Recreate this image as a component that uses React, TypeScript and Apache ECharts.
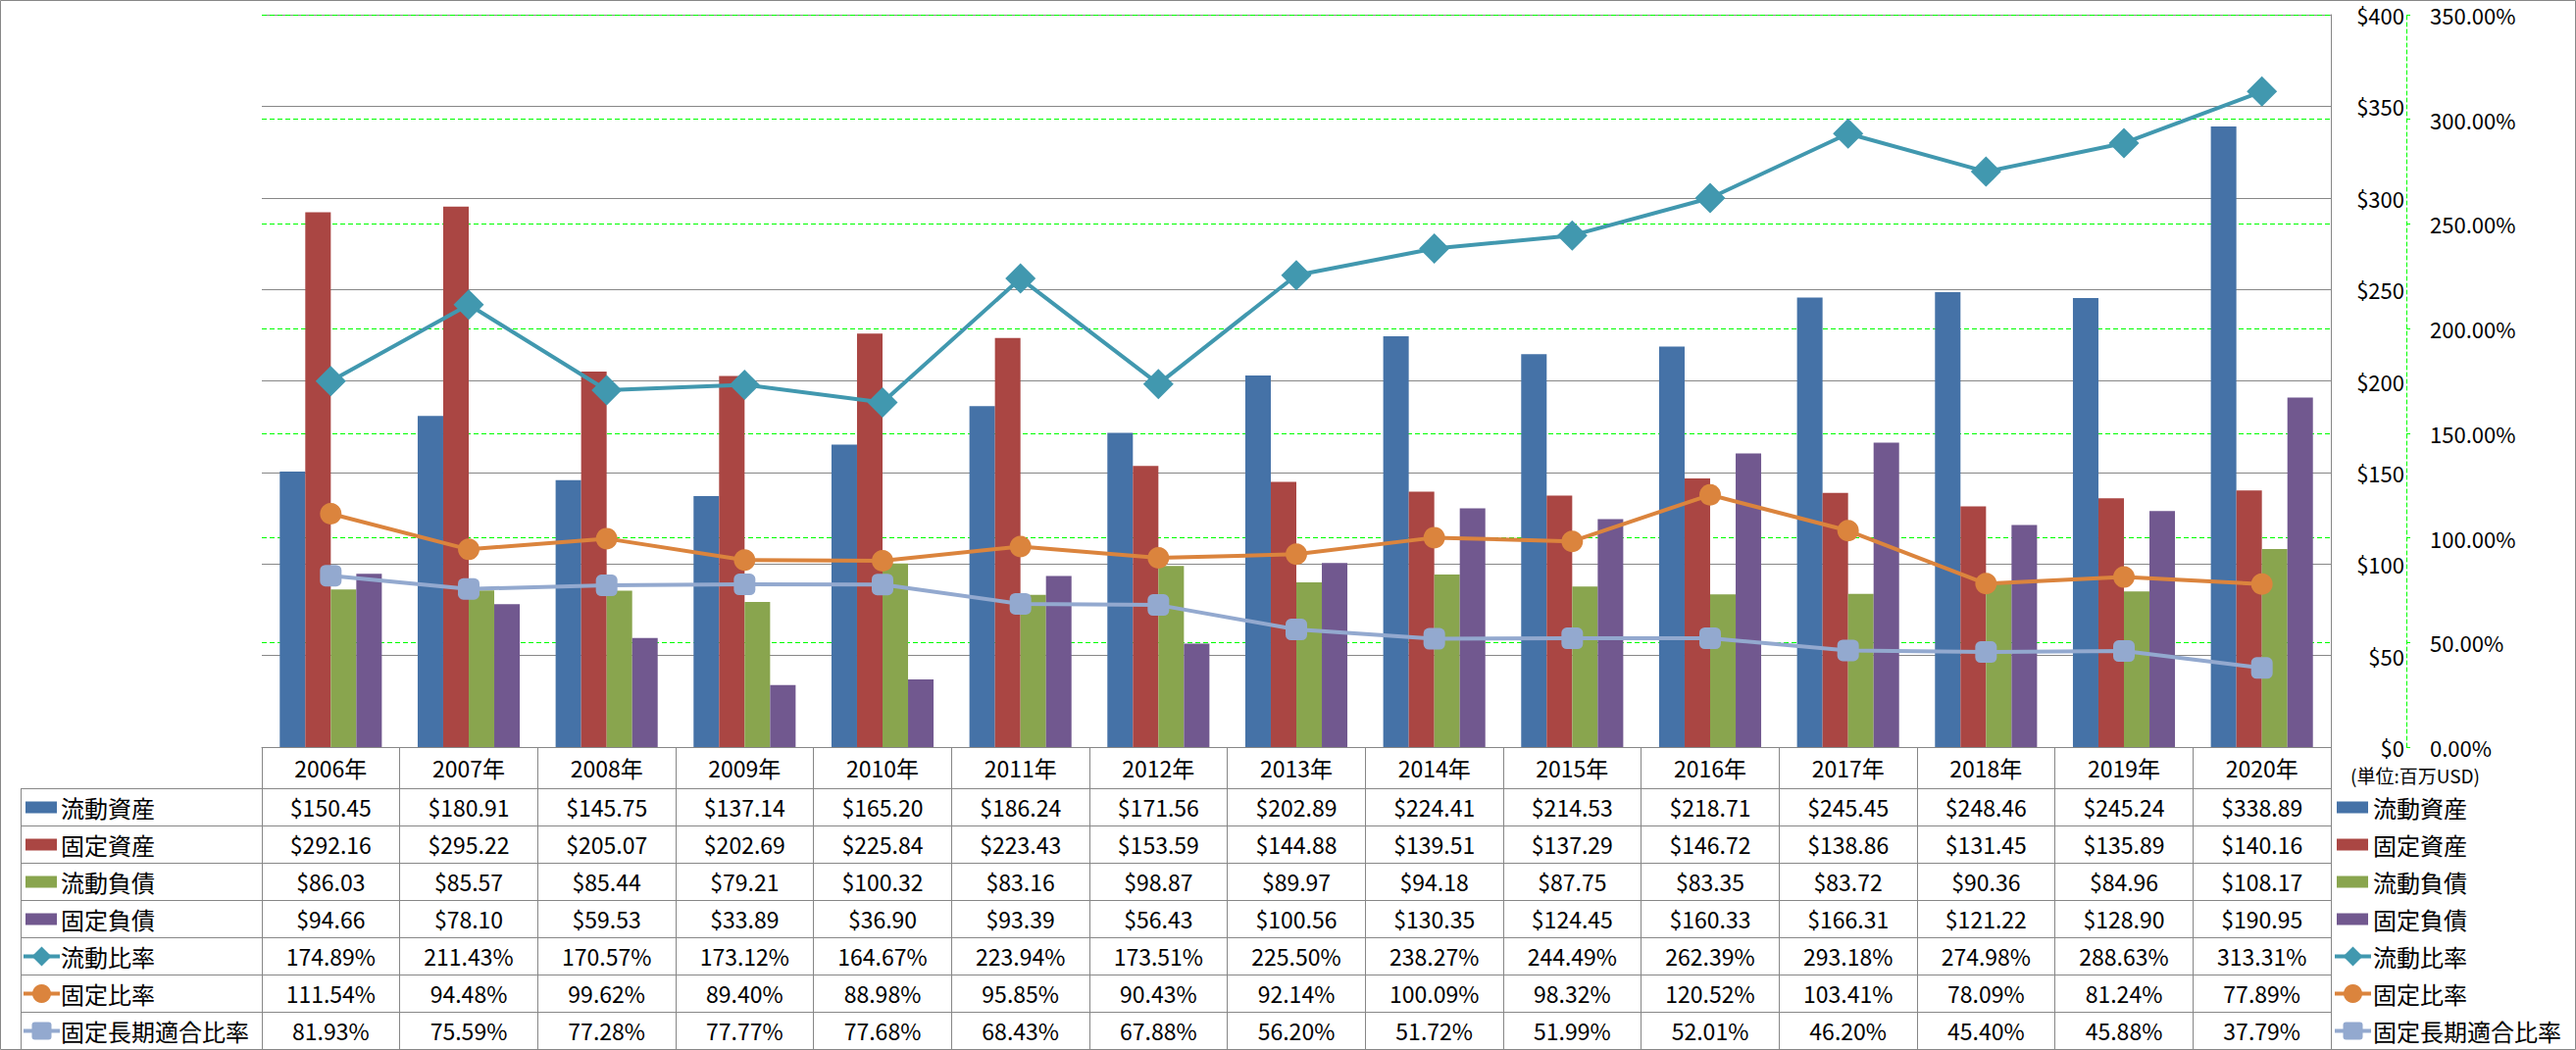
import React, { useEffect, useRef } from "react";
import * as echarts from "echarts";

const categories = ["2006年", "2007年", "2008年", "2009年", "2010年", "2011年", "2012年", "2013年", "2014年", "2015年", "2016年", "2017年", "2018年", "2019年", "2020年"];
const currentAssets = [150.45, 180.91, 145.75, 137.14, 165.2, 186.24, 171.56, 202.89, 224.41, 214.53, 218.71, 245.45, 248.46, 245.24, 338.89];
const fixedAssets = [292.16, 295.22, 205.07, 202.69, 225.84, 223.43, 153.59, 144.88, 139.51, 137.29, 146.72, 138.86, 131.45, 135.89, 140.16];
const currentLiabilities = [86.03, 85.57, 85.44, 79.21, 100.32, 83.16, 98.87, 89.97, 94.18, 87.75, 83.35, 83.72, 90.36, 84.96, 108.17];
const fixedLiabilities = [94.66, 78.1, 59.53, 33.89, 36.9, 93.39, 56.43, 100.56, 130.35, 124.45, 160.33, 166.31, 121.22, 128.9, 190.95];
const currentRatio = [174.89, 211.43, 170.57, 173.12, 164.67, 223.94, 173.51, 225.5, 238.27, 244.49, 262.39, 293.18, 274.98, 288.63, 313.31];
const fixedRatio = [111.54, 94.48, 99.62, 89.4, 88.98, 95.85, 90.43, 92.14, 100.09, 98.32, 120.52, 103.41, 78.09, 81.24, 77.89];
const fixedLongTermRatio = [81.93, 75.59, 77.28, 77.77, 77.68, 68.43, 67.88, 56.2, 51.72, 51.99, 52.01, 46.2, 45.4, 45.88, 37.79];

const seriesNames = ["流動資産", "固定資産", "流動負債", "固定負債", "流動比率", "固定比率", "固定長期適合比率"];
const seriesColors = ["#4572A7", "#AA4643", "#89A54E", "#71588F", "#4198AF", "#DB843D", "#93A9CF"];
const unitText = "(単位:百万USD)";

const FONT = "'Noto Sans CJK JP', 'Noto Sans', sans-serif";
const GRAY = "#878787";
const GREEN = "#00FF00";

const W = 2627;
const H = 1071;
const plotLeft = 267;
const plotRight = 2377;
const plotTop = 15;
const plotBottom = 762;
const tableTop = 804;
const rowH = 38;
const tableLeft = 21;

type Row = { name: string; values: number[]; kind: "bar" | "line"; color: string; symbol?: string };

const rows: Row[] = [
  { name: seriesNames[0], values: currentAssets, kind: "bar", color: seriesColors[0] },
  { name: seriesNames[1], values: fixedAssets, kind: "bar", color: seriesColors[1] },
  { name: seriesNames[2], values: currentLiabilities, kind: "bar", color: seriesColors[2] },
  { name: seriesNames[3], values: fixedLiabilities, kind: "bar", color: seriesColors[3] },
  { name: seriesNames[4], values: currentRatio, kind: "line", color: seriesColors[4], symbol: "diamond" },
  { name: seriesNames[5], values: fixedRatio, kind: "line", color: seriesColors[5], symbol: "circle" },
  { name: seriesNames[6], values: fixedLongTermRatio, kind: "line", color: seriesColors[6], symbol: "square" },
];

function fmtRow(r: Row, v: number) {
  return r.kind === "bar" ? "$" + v.toFixed(2) : v.toFixed(2) + "%";
}

function legendKey(r: Row, x0: number, cy: number): any[] {
  const els: any[] = [];
  if (r.kind === "bar") {
    els.push({ type: "rect", shape: { x: x0 + 2, y: cy - 6, width: 32, height: 12 }, style: { fill: r.color } });
  } else {
    const cx = x0 + 18.5;
    els.push({ type: "line", shape: { x1: x0, y1: cy, x2: x0 + 37, y2: cy }, style: { stroke: r.color, lineWidth: 4 } });
    if (r.symbol === "diamond") {
      els.push({ type: "polygon", shape: { points: [[cx, cy - 10], [cx + 10, cy], [cx, cy + 10], [cx - 10, cy]] }, style: { fill: r.color } });
    } else if (r.symbol === "circle") {
      els.push({ type: "circle", shape: { cx, cy, r: 9.5 }, style: { fill: r.color } });
    } else {
      els.push({ type: "rect", shape: { x: cx - 10, y: cy - 9, width: 20, height: 18, r: 3 }, style: { fill: r.color } });
    }
  }
  return els;
}

function buildGraphics(): any[] {
  const g: any[] = [];
  // outer border
  g.push({ type: "rect", shape: { x: 0.5, y: 0.5, width: W - 1, height: H - 1 }, style: { fill: "none", stroke: GRAY, lineWidth: 1 }, z: 0 });
  // table horizontal lines
  for (let k = 0; k <= rows.length; k++) {
    const y = tableTop + k * rowH + 0.5;
    g.push({ type: "line", shape: { x1: tableLeft, y1: y, x2: plotRight, y2: y }, style: { stroke: GRAY, lineWidth: 1 } });
  }
  // table left border
  g.push({ type: "line", shape: { x1: tableLeft + 0.5, y1: tableTop, x2: tableLeft + 0.5, y2: tableTop + rows.length * rowH }, style: { stroke: GRAY, lineWidth: 1 } });
  rows.forEach((r, k) => {
    const cy = tableTop + k * rowH + rowH / 2 + 0.5;
    g.push(...legendKey(r, 24, cy));
    g.push({ type: "text", x: 62, y: cy, style: { text: r.name, fontSize: 24, fontFamily: FONT, fill: "#000", align: "left", verticalAlign: "middle" } });
    g.push(...legendKey(r, 2381, cy));
    g.push({ type: "text", x: 2420, y: cy, style: { text: r.name, fontSize: 24, fontFamily: FONT, fill: "#000", align: "left", verticalAlign: "middle" } });
  });
  g.push({ type: "text", x: 2397, y: 790, style: { text: unitText, fontSize: 19, fontFamily: FONT, fill: "#000", align: "left", verticalAlign: "middle" } });
  return g;
}

export default function App() {
  const ref = useRef<HTMLDivElement>(null);
  useEffect(() => {
    const chart = echarts.init(ref.current!, null, { renderer: "svg" });
    const tableAxes = rows.map((r, k) => ({
      type: "category",
      data: categories,
      position: "bottom",
      offset: 61 + rowH * k,
      axisLine: { show: false },
      axisTick: { show: false },
      splitLine: { show: false },
      axisLabel: {
        interval: 0,
        margin: 0,
        verticalAlign: "middle",
        fontSize: 23,
        fontFamily: FONT,
        color: "#000",
        formatter: (_v: string, i: number) => fmtRow(r, r.values[i]),
      },
    }));
    const option: any = {
      animation: false,
      backgroundColor: "#fff",
      grid: { left: plotLeft, right: W - plotRight, top: plotTop, bottom: H - plotBottom, containLabel: false },
      xAxis: [
        {
          type: "category",
          data: categories,
          position: "bottom",
          axisLine: { show: true, lineStyle: { color: GRAY, width: 1 } },
          axisTick: { show: true, length: H - 1 - plotBottom, lineStyle: { color: GRAY, width: 1 } },
          axisLabel: { interval: 0, margin: 21, verticalAlign: "middle", fontSize: 23, fontFamily: FONT, color: "#000" },
          splitLine: { show: false },
        },
        ...tableAxes,
      ],
      yAxis: [
        {
          type: "value",
          position: "right",
          min: 0,
          max: 400,
          interval: 50,
          axisLine: { show: true, lineStyle: { color: GRAY, width: 1 } },
          axisTick: { show: false },
          axisLabel: { formatter: (v: number) => "$" + v, align: "right", margin: 75, fontSize: 22, fontFamily: FONT, color: "#000" },
          splitLine: { show: true, lineStyle: { color: GRAY, width: 1 } },
        },
        {
          type: "value",
          position: "right",
          offset: 77,
          min: 0,
          max: 350,
          interval: 50,
          axisLine: { show: true, lineStyle: { color: GREEN, width: 1, type: [4, 3] } },
          axisTick: { show: true, length: 4, lineStyle: { color: GREEN, width: 1 } },
          axisLabel: { formatter: (v: number) => v.toFixed(2) + "%", margin: 24, fontSize: 22, fontFamily: FONT, color: "#000" },
          splitLine: { show: true, lineStyle: { color: GREEN, width: 1, type: [5, 3] } },
        },
      ],
      series: [
        ...rows.filter((r) => r.kind === "bar").map((r) => ({
          type: "bar",
          name: r.name,
          data: r.values,
          xAxisIndex: 0,
          yAxisIndex: 0,
          barGap: "0%",
          barCategoryGap: "26%",
          itemStyle: { color: r.color },
        })),
        ...rows.filter((r) => r.kind === "line").map((r) => ({
          type: "line",
          name: r.name,
          data: r.values,
          xAxisIndex: 0,
          yAxisIndex: 1,
          symbol: r.symbol === "square" ? "roundRect" : r.symbol,
          symbolSize: r.symbol === "diamond" ? 31 : 22,
          showSymbol: true,
          showAllSymbol: true,
          lineStyle: { color: r.color, width: 4 },
          itemStyle: { color: r.color },
          z: 3,
        })),
      ],
      graphic: buildGraphics(),
    };
    chart.setOption(option);
    return () => chart.dispose();
  }, []);
  return <div ref={ref} style={{ position: "fixed", left: 0, top: 0, width: W, height: H, background: "#fff" }} />;
}
